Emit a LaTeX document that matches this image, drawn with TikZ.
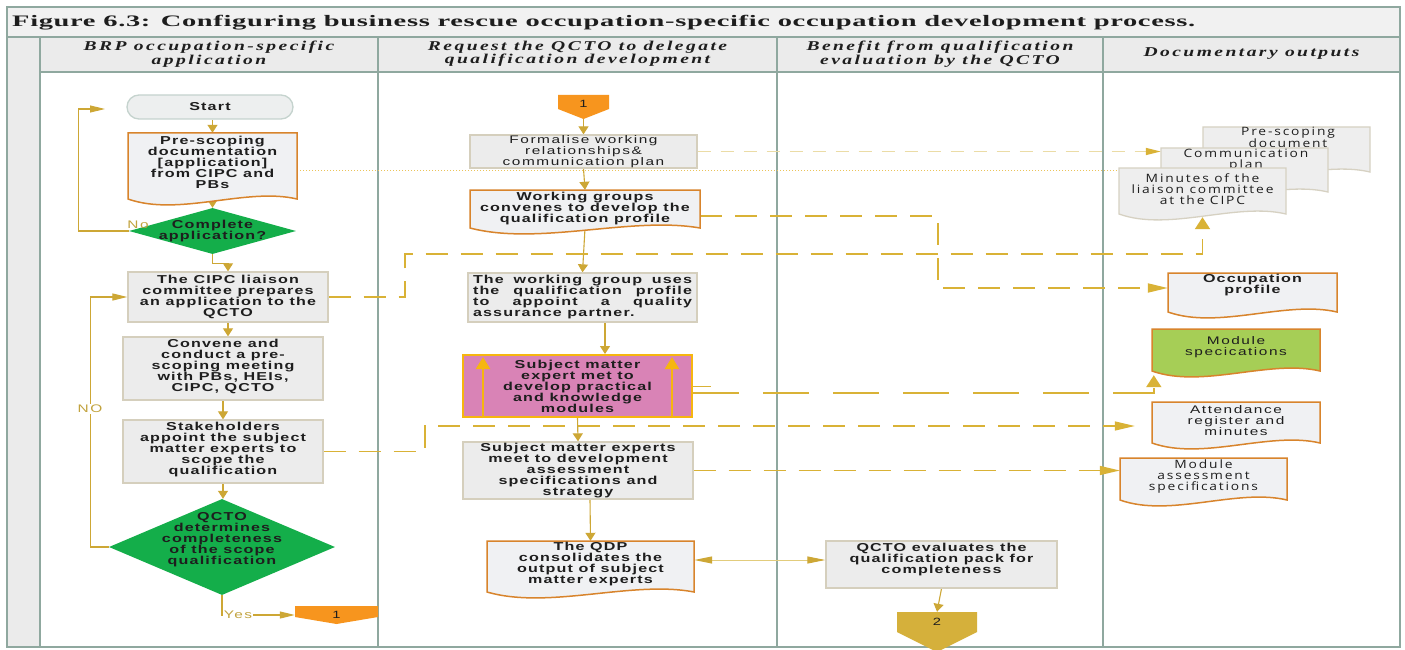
\documentclass[tikz,border=0pt]{standalone}
\usepackage{fontspec}
\usepackage{graphicx}
\usetikzlibrary{arrows.meta,shapes.geometric,shadows}
\setmainfont{Liberation Sans}
\newfontfamily\boxfont[LetterSpace=10,FakeStretch=1.4]{Liberation Sans}
\newfontfamily\plainfont[LetterSpace=14,FakeStretch=1.4]{Liberation Sans}
\newfontfamily\outfont[LetterSpace=16,FakeStretch=1.2]{Open Sans}
\newfontfamily\headfont[LetterSpace=18,FakeStretch=1.45]{Liberation Serif}
\newfontfamily\titlefont[LetterSpace=3,FakeStretch=1.3]{Liberation Serif}

\definecolor{lanec}{HTML}{8FA89F}
\definecolor{headf}{HTML}{EBEBEB}
\definecolor{titlef}{HTML}{F1F1F1}
\definecolor{boxf}{HTML}{ECECEC}
\definecolor{boxb}{HTML}{D5CFBD}
\definecolor{docf}{HTML}{F0F1F3}
\definecolor{docb}{HTML}{D8842C}
\definecolor{gold}{HTML}{CDA735}
\definecolor{goldd}{HTML}{D9B236}
\definecolor{goldl}{HTML}{EBDCA6}
\definecolor{goldt}{HTML}{E2CC7C}
\definecolor{dotc}{HTML}{EBC35A}
\definecolor{greend}{HTML}{14AE4A}
\definecolor{pinkf}{HTML}{D983B6}
\definecolor{amber}{HTML}{F6B60F}
\definecolor{orangec}{HTML}{F7951E}
\definecolor{goldcon}{HTML}{D5B03B}
\definecolor{outf}{HTML}{EEEEEE}
\definecolor{outb}{HTML}{D6D1C2}
\definecolor{limef}{HTML}{A6CE56}
\definecolor{startf}{HTML}{EDEFEF}
\definecolor{startb}{HTML}{C5D3CE}
\definecolor{txt}{HTML}{1E1E1E}
\definecolor{labc}{HTML}{C2A33E}

\pgfdeclarelayer{lanes}
\pgfdeclarelayer{links}
\pgfsetlayers{lanes,links,main}

% document symbol: flat top, wavy bottom; the named node covers the flat part
\newcommand\docnode[6]{%
  \pgfmathsetmacro\docw{#5-#3}%
  \pgfmathsetmacro\doch{#6-#4}%
  \pgfmathsetmacro\docpa{#5-0.3*\docw}%
  \pgfmathsetmacro\docpb{#3+0.3*\docw}%
  \draw[#2] (#3,#4) -- (#5,#4) -- (#5,#6)
     .. controls ({\docpa},{#6-12}) and ({\docpb},{#6+18}) .. (#3,#6) -- cycle;
  \node[inner sep=0pt, minimum width=\docw pt, minimum height=\doch pt]
     (#1) at ({(#3+#5)/2},{(#4+#6)/2}) {};
}

\tikzset{
  lanerule/.style={draw=lanec, line width=1.4pt},
  boxtext/.style={font=\boxfont\bfseries\fontsize{11.5}{11}\selectfont, text=txt, align=center, inner sep=0pt},
  plaintext/.style={font=\plainfont\fontsize{11}{10.7}\selectfont, text=txt, align=center, inner sep=0pt},
  outtext/.style={font=\outfont\fontsize{11.5}{11}\selectfont, text=txt, align=center, inner sep=0pt},
  headtext/.style={font=\headfont\bfseries\itshape\fontsize{13.5}{13.5}\selectfont, text=txt, align=center, inner sep=0pt},
  shade box/.style={drop shadow={shadow xshift=1.4pt, shadow yshift=-1.4pt, opacity=0.22}},
  procbox/.style={boxtext, draw=boxb, fill=boxf, line width=1.3pt, shade box},
  startbox/.style={boxtext, draw=startb, fill=startf, line width=1.3pt, rounded corners=12pt},
  decision/.style={diamond, fill=greend, inner sep=0pt},
  orgdoc/.style={draw=docb, fill=docf, line width=1.5pt},
  limedoc/.style={draw=docb, fill=limef, line width=1.5pt},
  outdoc/.style={draw=outb, fill=outf, line width=1.3pt},
  flowv/.style={draw=gold, line width=1.1pt, -{Triangle[length=8pt,width=10pt]}},
  flowh/.style={draw=gold, line width=1.1pt, -{Triangle[length=15pt,width=7pt]}},
  linkdash/.style={draw=goldd, line width=1.8pt, dash pattern=on 22pt off 13pt},
  linklong/.style={draw=goldd, line width=1.9pt, dash pattern=on 46pt off 24pt},
  linkthin/.style={draw=goldd, line width=1.4pt, dash pattern=on 22pt off 13pt},
  linklight/.style={draw=goldl, line width=1.5pt, dash pattern=on 13pt off 10pt},
  linkdot/.style={draw=dotc, line width=0.8pt, dash pattern=on 1.2pt off 1.8pt},
  tiph/.style={-{Triangle[length=20pt,width=9pt,color=goldd]}},
  tipv/.style={-{Triangle[length=12pt,width=15pt,color=goldd]}},
  twoway/.style={draw=goldt, line width=1pt,
     {Triangle[length=18pt,width=7pt,color=gold]}-{Triangle[length=18pt,width=7pt,color=gold]}},
  amberup/.style={draw=amber, line width=2.2pt, -{Triangle[length=12pt,width=14pt]}},
  lab/.style={font=\plainfont\fontsize{11}{11}\selectfont, text=labc, inner sep=1pt},
  pagetext/.style={font=\plainfont\fontsize{10.5}{11}\selectfont, text=txt, inner sep=0pt},
}

\begin{document}
\begin{tikzpicture}[x=1pt,y=-1pt]
\useasboundingbox (0,0) rectangle (1405,650);

% ---------- swimlane frame ----------
\begin{pgfonlayer}{lanes}
  \fill[white] (0,0) rectangle (1405,650);
  \fill[titlef] (7,7) rectangle (1400,37);
  \fill[headf] (7,37) rectangle (1400,72);
  \fill[headf] (7,72) rectangle (40,647);
  \draw[lanerule] (7,7) rectangle (1400,647);
  \draw[lanerule] (7,37) -- (1400,37);
  \draw[lanerule] (40,72) -- (1400,72);
  \foreach \lx in {40,378,777,1103} \draw[lanerule] (\lx,37) -- (\lx,647);
\end{pgfonlayer}

\node[anchor=base west, inner sep=0pt, text=txt] (title) at (12,26.5)
  {\resizebox{1183pt}{\height}{\titlefont\bfseries\fontsize{16}{18}\selectfont
   Figure 6.3: Configuring business rescue occupation-specific occupation development process.}};

\node[headtext] (h1) at (209,54) {BRP occupation-specific\\application};
\node[headtext] (h2) at (577.5,54) {Request the QCTO to delegate\\qualification development};
\node[headtext] (h3) at (940,54) {Benefit from qualification\\evaluation by the QCTO};
\node[headtext] (h4) at (1251.5,54) {Documentary outputs};

% ---------- lane 1 ----------
\node[startbox, minimum width=166pt, minimum height=24pt] (start) at (210,107) {Start};
\coordinate (loopend) at (105,109);

\docnode{pre}{orgdoc}{128}{133}{297}{199}
\node[boxtext] (pre-t) at (212.5,162) {Pre-scoping\\documentation\\{[application]}\\from CIPC and\\PBs};

\node[decision, minimum width=167pt, minimum height=46pt,
      label={[name=d1-t, boxtext]center:{Complete\\application?}}] (d1) at (212.5,231) {};
\node[lab, anchor=base] (d1-no) at (138,228) {No};

\node[procbox, minimum width=200pt, minimum height=50pt] (cipc) at (228,297)
  {The CIPC liaison\\committee prepares\\an application to the\\QCTO};
\node[procbox, minimum width=200pt, minimum height=63pt, text depth=7pt] (conv) at (223,368.5)
  {Convene and\\conduct a pre-\\scoping meeting\\with PBs, HEIs,\\CIPC, QCTO};
\node[procbox, minimum width=200pt, minimum height=63pt, text depth=7pt] (stk) at (223,451.5)
  {Stakeholders\\appoint the subject\\matter experts to\\scope the\\qualification};

\node[decision, minimum width=226pt, minimum height=96pt,
      label={[name=d2-t, boxtext, yshift=7pt]center:{QCTO\\determines\\completeness\\of the scope\\qualification}}] (d2) at (222,547) {};
\node[lab, fill=white] (d2-no) at (90,409) {NO};
\node[lab, fill=white] (d2-yes) at (238,615) {Yes};

\fill[orangec] (295,606) -- (378,606) -- (378,617) -- (336.5,624) -- (295,617) -- cycle;
\node[pagetext, minimum width=83pt, minimum height=18pt] (c1b) at (336.5,615) {1};

% ---------- lane 2 ----------
\fill[orangec] (558,95) -- (609,95) -- (609,109) -- (583.5,119) -- (558,109) -- cycle;
\node[pagetext, minimum width=51pt, minimum height=24pt, text depth=6pt] (c1t) at (583.5,107) {1};

\node[procbox, plaintext, minimum width=227pt, minimum height=33pt] (form) at (583.5,151.5)
  {Formalise working\\relationships\&\\communication plan};

\docnode{wg}{orgdoc}{470}{190}{700}{228}
\node[boxtext] (wg-t) at (585,209) {Working groups\\convenes to develop the\\qualification profile};

\node[procbox, minimum width=229pt, minimum height=49pt] (wgu) at (582.5,297.5)
  {\makebox[219pt][s]{The working group uses}\\\makebox[219pt][s]{the qualification profile}\\
   \makebox[219pt][s]{to appoint a quality}\\\makebox[219pt][l]{assurance partner.}};

\node[boxtext, draw=amber, fill=pinkf, line width=2pt, minimum width=229pt, minimum height=62pt] (sme)
  at (577.5,386) {Subject matter\\expert met to\\develop practical\\and knowledge\\modules};
\draw[amberup] ([xshift=21pt]sme.south west) -- ([xshift=21pt,yshift=-3pt]sme.north west);
\draw[amberup] ([xshift=-21pt]sme.south east) -- ([xshift=-21pt,yshift=-3pt]sme.north east);

\node[procbox, minimum width=230pt, minimum height=57pt] (smx) at (578,470.5)
  {Subject matter experts\\meet to development\\assessment\\specifications and\\strategy};

\docnode{qdp}{orgdoc}{487}{541}{694}{592}
\node[boxtext] (qdp-t) at (590.5,564.5) {The QDP\\consolidates the\\output of subject\\matter experts};

% ---------- lane 3 ----------
\node[procbox, minimum width=231pt, minimum height=47pt, text depth=13pt] (qe) at (941.5,564.5)
  {QCTO evaluates the\\qualification pack for\\completeness};

\fill[goldcon] (897,612) -- (977,612) -- (977,632) -- (937,652) -- (897,632) -- cycle;
\node[pagetext, minimum width=80pt, minimum height=20pt] (c2) at (937,622) {2};

% ---------- lane 4: documentary outputs (stacked sheets overlap) ----------
\docnode{psd}{outdoc}{1203}{127}{1370}{172}
\node[outtext] (psd-t) at (1288,137.5) {Pre-scoping\\document};
\docnode{cpl}{outdoc}{1161}{148}{1328}{192}
\node[outtext] (cpl-t) at (1246,160.5) {Communication\\plan};
\docnode{mlc}{outdoc}{1119}{168}{1286}{214}
\node[outtext] (mlc-t) at (1202.5,189) {Minutes of the\\liaison committee\\at the CIPC};

\docnode{occ}{orgdoc}{1168}{273}{1337}{312}
\node[boxtext] (occ-t) at (1252.5,285.5) {Occupation\\profile};

\docnode{msp}{limedoc}{1152}{329}{1320}{371}
\node[plaintext] (msp-t) at (1236,347.5) {Module\\specications};

\docnode{att}{orgdoc}{1152}{402}{1320}{443}
\node[plaintext] (att-t) at (1236,420.5) {Attendance\\register and\\minutes};

\docnode{mas}{orgdoc}{1120}{458}{1287}{500}
\node[outtext] (mas-t) at (1203.5,477) {Module\\assessment\\specifications};

\coordinate (j3) at (938,250);
\coordinate (j4) at (405,254);
\coordinate (j6) at (425,426);

% ---------- connectors ----------
\begin{pgfonlayer}{links}
  % lane 1 sequence
  \draw[flowv] (start.south -| pre.north) -- (pre.north);
  \draw[flowv] (pre.south) -- (d1.north);
  \draw[flowh] (d1.west) -- ++(-50,0) |- (loopend);
  \draw[flowv] (d1.south) -- ++(0,9) -| (cipc.north);
  \draw[flowv] (cipc.south) -- (cipc.south |- conv.north);
  \draw[flowv] (conv.south) -- (stk.north);
  \draw[flowv] (stk.south) -- (stk.south |- d2.north);
  \draw[flowh] (d2.west) -- ++(-18,0) |- (cipc.west);
  \draw[flowh] (d2.south) |- (c1b.west);
  % lane 2 sequence
  \draw[flowv] (c1t.south) -- (form.north);
  \draw[flowv] (form.south) -- (wg.north);
  \draw[flowv] (wg.south) -- (wgu.north);
  \draw[flowv] ([xshift=22.5pt]wgu.south) -- ([xshift=27.5pt]sme.north);
  \draw[flowv] (sme.south) -- (smx.north);
  \draw[flowv] ([xshift=12pt]smx.south) -- (qdp.north);
  \draw[twoway] ([yshift=6.5pt]qdp.east) -- ([yshift=6.5pt]qdp.east -| qe.west);
  \draw[flowv] (qe.south) -- (c2.north);
  % links to the documentary outputs
  \draw[linklight, -{Triangle[length=15pt,width=7pt,color=goldd]}] (form.east) -- (form.east -| cpl.west);
  \draw[linkdot] ([yshift=-4pt]pre.east) -- ([yshift=-4pt]pre.east -| mlc.west);
  \draw[linkdash, tiph] ([yshift=-7pt]wg.east) -| (j3) |- ([yshift=4.5pt]occ.west);
  \draw[linkdash, tipv] (cipc.east) -| (j4) -| ([yshift=-3pt]mlc.south);
  \draw[linklong, tipv] ([yshift=-7pt]sme.east) -| ([xshift=2pt,yshift=-4pt]msp.south west);
  \draw[draw=goldd, line width=0.8pt] (sme.east) -- ++(18,0);
  \draw[linkthin, tiph, shorten >=17pt] (stk.east) -| (j6) -- (j6 -| att.west);
  \draw[linkthin, tiph] (smx.east) -- (smx.east -| mas.west);
\end{pgfonlayer}
\end{tikzpicture}
\end{document}
